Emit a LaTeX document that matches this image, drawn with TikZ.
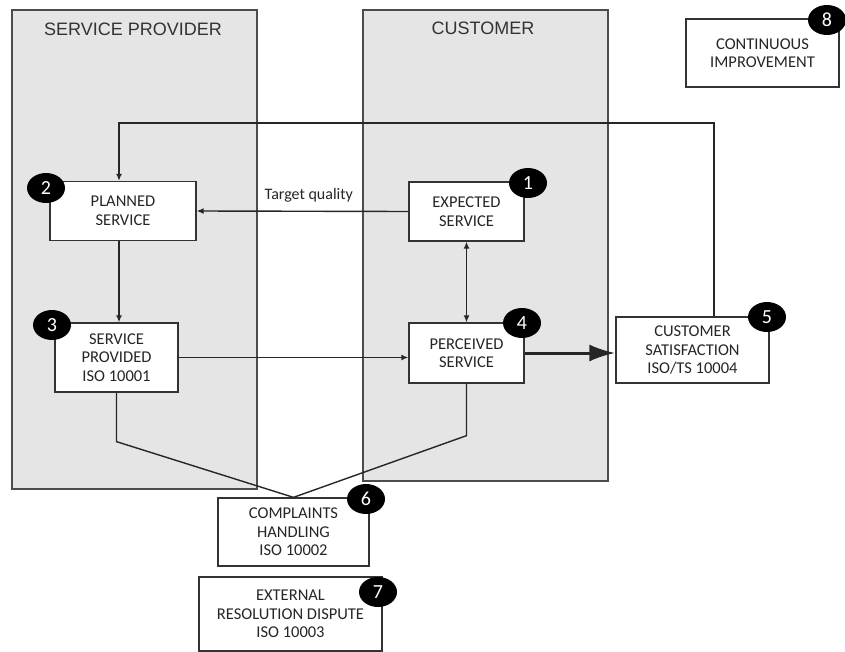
\documentclass[tikz,border=0pt]{standalone}
\usepackage{fontspec}
\setmainfont{Carlito}
\newfontfamily\headfont{Liberation Sans}
\usetikzlibrary{shapes.geometric,arrows.meta}
\begin{document}
\begin{tikzpicture}[x = 1pt, y = -1pt,
    box/.style = {draw = black!80, fill = white, line width = 1.3pt, inner sep = 0, align = center, text = black!85, font = \fontsize{16.5}{18.5}\selectfont},
    badge/.style = {ellipse, fill = black, text = white, inner sep = 0, minimum width = 38, minimum height = 30, font = \fontsize{20}{20}\selectfont},
    panel/.style = {draw = black!70, fill = black!10, line width = 1.5pt},
    link/.style = {line width = 1.4pt, draw = black!85},
    tip/.style = {-{Latex[length = 7pt, width = 6pt]}}]
  \useasboundingbox (0,0) rectangle (845,652);
  \draw [panel] (12,10) rectangle (257,489);
  \draw [panel] (363,10) rectangle (608,481);
  \node [font = \headfont\fontsize{18}{18}\selectfont, text = black!80] (spt) at (133,29) {SERVICE PROVIDER};
  \node [font = \headfont\fontsize{18}{18}\selectfont, text = black!80] (cut) at (483,28) {CUSTOMER};
  % boxes
  \node [box, minimum width = 146, minimum height = 59] (ps) at (123,211) {PLANNED\\SERVICE};
  \node [box, minimum width = 115, minimum height = 59] (es) at (466.5,211.5) {EXPECTED\\SERVICE};
  \node [box, minimum width = 123, minimum height = 69] (sp) at (116.5,357.5) {SERVICE\\PROVIDED\\ISO 10001};
  \node [box, minimum width = 115, minimum height = 60] (pe) at (466.5,353) {PERCEIVED\\SERVICE};
  \node [box, minimum width = 153, minimum height = 66] (cs) at (692.5,350) {CUSTOMER\\SATISFACTION\\ISO/TS 10004};
  \node [box, minimum width = 151, minimum height = 68] (ch) at (293.5,532) {COMPLAINTS\\HANDLING\\ISO 10002};
  \node [box, minimum width = 183, minimum height = 74] (er) at (290.5,614) {EXTERNAL\\RESOLUTION DISPUTE\\ISO 10003};
  \node [box, minimum width = 153, minimum height = 68] (ci) at (762.5,53) {CONTINUOUS\\IMPROVEMENT};
  % connectors
  \coordinate (fb) at (714,123);
  \coordinate (col) at (119,0);
  \draw [link, tip] (cs.north -| fb) -- (fb) -| (ps.north -| col);
  \draw [link, tip] (ps.south -| col) -- (sp.north -| col);
  \draw [link, tip] (es.west) -- (ps.east) node [pos = .47, above = 5pt, font = \fontsize{16}{18}\selectfont, text = black!85] {Target quality};
  \draw [link, tip] (sp.east) -- (sp.east -| pe.west);
  \draw [link, {Latex[length = 7pt, width = 6pt]}-{Latex[length = 7pt, width = 6pt]}] (es.south) -- (pe.north);
  \draw [line width = 3pt, black!85, -{Latex[length = 26pt, width = 17pt]}] (pe.east) -- (pe.east -| cs.west);
  \draw [link] (sp.south) --++ (0,49) -- (ch.north);
  \draw [link] (pe.south) --++ (0,52) -- (ch.north);
  % numbers
  \node [badge] (n1) at (528,183) {1};
  \node [badge] (n2) at (46,188) {2};
  \node [badge] (n3) at (52,325) {3};
  \node [badge] (n4) at (522,323) {4};
  \node [badge] (n5) at (767,317) {5};
  \node [badge] (n6) at (366,499) {6};
  \node [badge] (n7) at (378,592) {7};
  \node [badge] (n8) at (827,20) {8};
\end{tikzpicture}
\end{document}
